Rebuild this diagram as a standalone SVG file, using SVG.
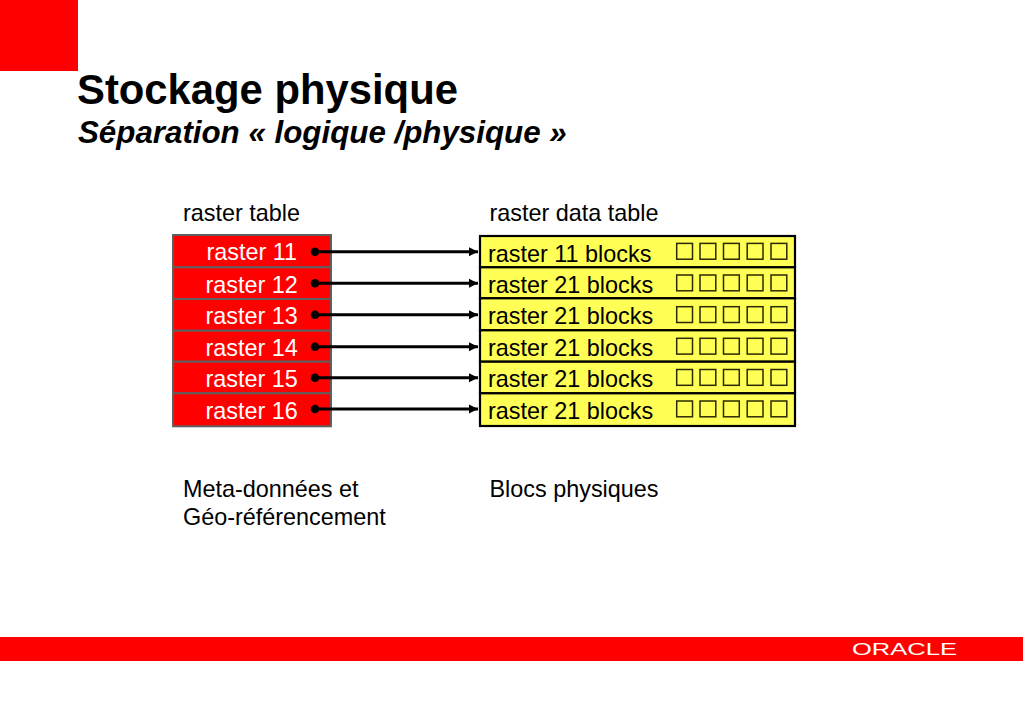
<svg xmlns="http://www.w3.org/2000/svg" width="1023" height="708" viewBox="0 0 1023 708">
<style>
text{font-family:"Liberation Sans",Arial,sans-serif}
.lbl{font-size:23.4px;fill:#000}
.w{font-size:23.4px;fill:#fff}
.red{fill:#f00;stroke:#5f5f5f;stroke-width:2}
.yel{fill:#ff5;stroke:#000;stroke-width:2.2}
.sq{fill:none;stroke:#2a2a00;stroke-width:1.5}
.con{stroke:#000;stroke-width:3;fill:none;marker-end:url(#arr)}
</style>
<defs>
<marker id="arr" markerUnits="userSpaceOnUse" markerWidth="10" markerHeight="10" refX="9" refY="5" orient="auto"><path d="M0 0.500L9 5L0 9.500Z" fill="#000"/></marker>
<g id="boxes"><rect class="sq" x="676.7" y="0" width="15.8" height="15.8"/><rect class="sq" x="700" y="0" width="15.8" height="15.8"/><rect class="sq" x="723.5" y="0" width="15.8" height="15.8"/><rect class="sq" x="747.2" y="0" width="15.8" height="15.8"/><rect class="sq" x="771" y="0" width="15.8" height="15.8"/></g>
</defs>
<rect width="1023" height="708" fill="#fff"/>
<rect x="0" y="0" width="78" height="71" fill="#f00"/>
<rect x="0" y="637" width="1023" height="24" fill="#f00"/>
<text x="852" y="655" font-size="17" fill="#fff" textLength="105" lengthAdjust="spacingAndGlyphs">ORACLE</text>
<text x="77" y="103.500" font-size="41.800" font-weight="bold" fill="#000">Stockage physique</text>
<text x="78" y="143.300" font-size="31.300" font-weight="bold" font-style="italic" fill="#000">Séparation « logique /physique »</text>
<text class="lbl" x="183" y="221">raster table</text>
<text class="lbl" x="489.500" y="221">raster data table</text>
<text class="lbl" x="183" y="497">Meta-données et</text>
<text class="lbl" x="183" y="525">Géo-référencement</text>
<text class="lbl" x="489.500" y="497">Blocs physiques</text>
<g id="raster-table">
<g id="r11"><rect class="red" x="173" y="235" width="158" height="32.300"/><text class="w" x="206.500" y="260">raster 11</text></g>
<g id="r12"><rect class="red" x="173" y="267.300" width="158" height="31.700"/><text class="w" x="205.500" y="292.500">raster 12</text></g>
<g id="r13"><rect class="red" x="173" y="299" width="158" height="31.700"/><text class="w" x="205.500" y="324">raster 13</text></g>
<g id="r14"><rect class="red" x="173" y="330.700" width="158" height="31"/><text class="w" x="205.500" y="355.500">raster 14</text></g>
<g id="r15"><rect class="red" x="173" y="361.700" width="158" height="31.600"/><text class="w" x="205.500" y="387">raster 15</text></g>
<g id="r16"><rect class="red" x="173" y="393.300" width="158" height="33"/><text class="w" x="205.500" y="419">raster 16</text></g>
</g>
<g id="raster-data-table">
<g id="b11"><rect class="yel" x="480" y="236" width="315" height="31.300"/><text class="lbl" x="488" y="261.500">raster 11 blocks</text><use href="#boxes" y="243.400"/></g>
<g id="b12"><rect class="yel" x="480" y="267.300" width="315" height="31"/><text class="lbl" x="488" y="292.500">raster 21 blocks</text><use href="#boxes" y="275"/></g>
<g id="b13"><rect class="yel" x="480" y="298.300" width="315" height="32"/><text class="lbl" x="488" y="324.300">raster 21 blocks</text><use href="#boxes" y="306.700"/></g>
<g id="b14"><rect class="yel" x="480" y="330.300" width="315" height="31.400"/><text class="lbl" x="488" y="355.500">raster 21 blocks</text><use href="#boxes" y="338.300"/></g>
<g id="b15"><rect class="yel" x="480" y="361.700" width="315" height="31.600"/><text class="lbl" x="488" y="387">raster 21 blocks</text><use href="#boxes" y="369.500"/></g>
<g id="b16"><rect class="yel" x="480" y="393.300" width="315" height="32.700"/><text class="lbl" x="488" y="418.500">raster 21 blocks</text><use href="#boxes" y="401"/></g>
</g>
<g id="connectors">
<path class="con" d="M315 251.700H478"/><circle cx="315" cy="251.700" r="4.300"/>
<path class="con" d="M315 283.300H478"/><circle cx="315" cy="283.300" r="4.300"/>
<path class="con" d="M315 314.700H478"/><circle cx="315" cy="314.700" r="4.300"/>
<path class="con" d="M315 346.700H478"/><circle cx="315" cy="346.700" r="4.300"/>
<path class="con" d="M315 377.700H478"/><circle cx="315" cy="377.700" r="4.300"/>
<path class="con" d="M315 409H478"/><circle cx="315" cy="409" r="4.300"/>
</g>
</svg>
